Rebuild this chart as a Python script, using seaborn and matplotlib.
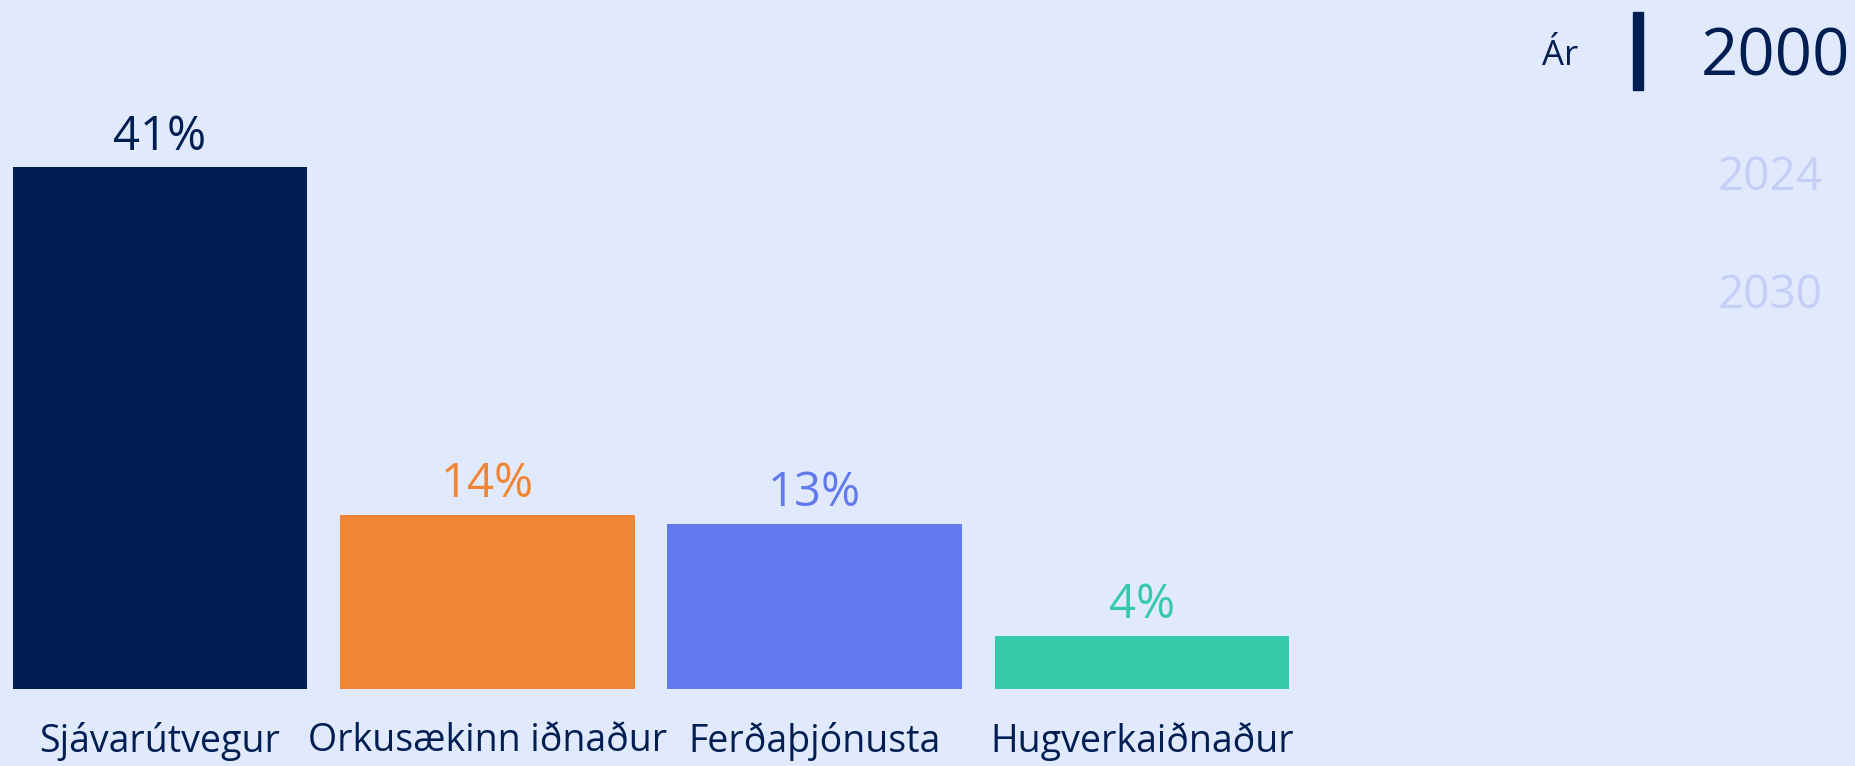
import matplotlib
matplotlib.use("Agg")
import matplotlib.pyplot as plt
import matplotlib.patches as mpatches
import pandas as pd
import seaborn as sns

# gögn
categories = ["Sjávarútvegur", "Orkusækinn iðnaður", "Ferðaþjónusta", "Hugverkaiðnaður"]
shares = [41.0, 13.7, 13.0, 4.2]
bar_colors = ["#001e52", "#f18533", "#627aee", "#36c9aa"]
years = ["2000", "2024", "2030"]
year_label = "Ár"

bg = "#e1eafd"
navy = "#001e52"
faded = "#c5cdf9"

W, H = 1855, 766
sns.set_theme(style="white")
plt.rcParams["font.family"] = ["Open Sans", "DejaVu Sans"]

fig = plt.figure(figsize=(W / 100, H / 100), dpi=100)
fig.patch.set_facecolor(bg)

# ás sem nær yfir alla breiddina, súlubil ~327 px
step = 327.3
first_center = 160
base_px = 77
px_per_unit = 12.73
ax = fig.add_axes([0, base_px / H, 1, 1 - base_px / H])
ax.set_facecolor(bg)

df = pd.DataFrame({"grein": categories, "hlutfall": shares})
sns.barplot(data=df, x="grein", y="hlutfall", hue="grein", palette=bar_colors,
            width=0.9, saturation=1, legend=False, linewidth=0, ax=ax)

x0 = -first_center / step
ax.set_xlim(x0, x0 + W / step)
ax.set_ylim(0, (H - base_px) / px_per_unit)

for i, (v, c) in enumerate(zip(shares, bar_colors)):
    ax.annotate(f"{v:.0f}%", (i, v), xytext=(0, 12.5), textcoords="offset points",
                ha="center", va="baseline", fontsize=34, color=c)

ax.set_xticks(range(len(categories)))
ax.set_xticklabels(categories, fontsize=27, color=navy)
ax.tick_params(axis="x", length=0, pad=24)
ax.set_yticks([])
ax.set_xlabel("")
ax.set_ylabel("")
sns.despine(ax=ax, left=True, bottom=True)

# ártalsval til hægri
fig.text(1542 / W, 1 - 65 / H, year_label, fontsize=25, color=navy, ha="left", va="baseline")
fig.patches.append(mpatches.Rectangle((1633 / W, 1 - 90 / H), 10 / W, 78 / H,
                                      transform=fig.transFigure, color=navy))
fig.text(1775 / W, 1 - 76 / H, years[0], fontsize=47, color=navy, ha="center", va="baseline")
fig.text(1770 / W, 1 - 190 / H, years[1], fontsize=33, color=faded, ha="center", va="baseline")
fig.text(1770 / W, 1 - 308 / H, years[2], fontsize=33, color=faded, ha="center", va="baseline")

fig.savefig("out.png", dpi=100, facecolor=bg)
